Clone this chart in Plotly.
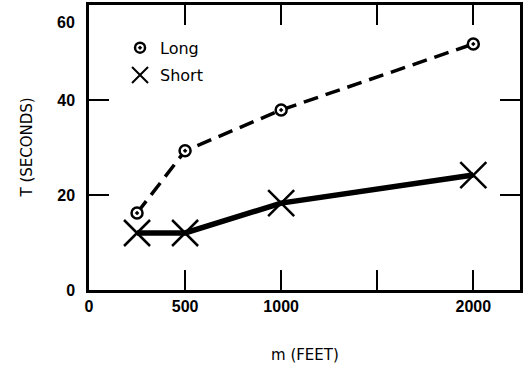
import plotly.graph_objects as go

distance_ft = [250, 500, 1000, 2000]
long_T = [16.2, 29.3, 37.9, 51.8]
short_T = [12.0, 12.0, 18.3, 24.2]

x_tickvals = [0, 500, 1000, 1500, 2000]
x_ticktext = ["0", "500", "1000", "", "2000"]
y_tickvals = [0, 20, 40, 60]
y_ticktext = ["0", "20", "40", ""]

fig = go.Figure()

fig.add_trace(go.Scatter(
    x=distance_ft, y=long_T, mode="lines+markers", name="Long", showlegend=False,
    line=dict(color="black", width=3.5, dash="15px,8px"),
    marker=dict(symbol="circle-dot", size=11, color="white",
                line=dict(color="black", width=2.5)),
))
fig.add_trace(go.Scatter(
    x=distance_ft, y=short_T, mode="lines+markers", name="Short", showlegend=False,
    line=dict(color="black", width=5.5),
    marker=dict(symbol="x-thin-open", size=26, color="black",
                line=dict(color="black", width=2.5)),
))

# legend-only entries
fig.add_trace(go.Scatter(
    x=[None], y=[None], mode="markers", name="Long", legend="legend",
    marker=dict(symbol="circle-dot", size=10, color="white",
                line=dict(color="black", width=2.5)),
))
fig.add_trace(go.Scatter(
    x=[None], y=[None], mode="markers", name="Short", legend="legend2",
    marker=dict(symbol="x-thin-open", size=16, color="black",
                line=dict(color="black", width=2)),
))

axis_common = dict(
    showline=True, linecolor="black", linewidth=2.5, mirror="ticks",
    ticks="inside", ticklen=20, tickwidth=2, tickcolor="black",
    showgrid=False, zeroline=False,
    tickfont=dict(family="Liberation Sans", size=16, color="black", weight="bold"),
)

legend_font = dict(family="DejaVu Sans", size=16, color="black")

fig.update_layout(
    width=525, height=368,
    margin=dict(l=89, r=2, t=5, b=78),
    paper_bgcolor="white", plot_bgcolor="white",
    xaxis=dict(range=[0, 2243], tickvals=x_tickvals, ticktext=x_ticktext, **axis_common),
    yaxis=dict(range=[0, 60], tickvals=y_tickvals, ticktext=y_ticktext,
               ticklabelstandoff=8, **axis_common),
    legend=dict(x=0.072, y=0.85, xanchor="left", yanchor="middle",
                bgcolor="rgba(0,0,0,0)", font=legend_font),
    legend2=dict(x=0.072, y=0.754, xanchor="left", yanchor="middle",
                 bgcolor="rgba(0,0,0,0)", font=legend_font),
    annotations=[
        dict(text="60", xref="paper", yref="y", x=0, y=60, xanchor="right",
             yanchor="middle", xshift=-12, yshift=-17, showarrow=False,
             font=dict(family="Liberation Sans", size=16, color="black", weight="bold")),
        dict(text="T (SECONDS)", xref="paper", yref="paper", x=0, y=0.5,
             xanchor="center", yanchor="middle", xshift=-63, textangle=-90,
             showarrow=False,
             font=dict(family="DejaVu Sans", size=15, color="black")),
        dict(text="m (FEET)", xref="paper", yref="paper", x=0.5, y=0,
             xanchor="center", yanchor="middle", yshift=-65,
             showarrow=False,
             font=dict(family="DejaVu Sans", size=15, color="black")),
    ],
)

fig.write_html("out.html", config={"displayModeBar": False},
               post_script="document.body.style.margin='0';document.body.style.overflow='hidden';")
